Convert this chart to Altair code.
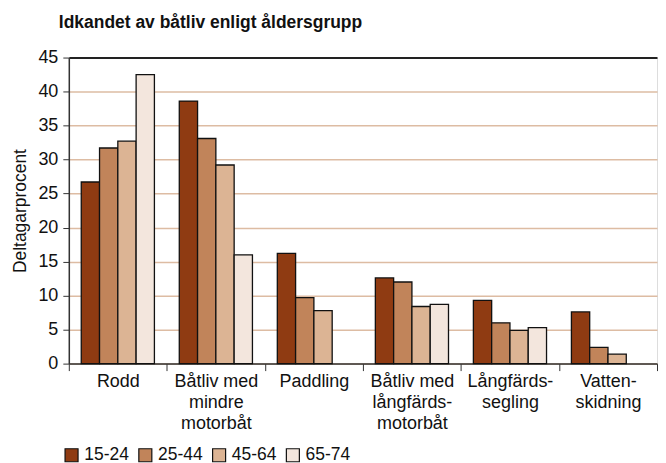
import altair as alt
import pandas as pd

categories = ["Rodd", "Båtliv med|mindre|motorbåt", "Paddling",
              "Båtliv med|långfärds-|motorbåt", "Långfärds-|segling", "Vatten-|skidning"]
groups = ["15-24", "25-44", "45-64", "65-74"]
colors = ["#8F3B12", "#C1845A", "#DCB494", "#F3E6DD"]

v_15_24 = [26.7, 38.6, 16.2, 12.6, 9.3, 7.6]
v_25_44 = [31.7, 33.1, 9.7, 12.0, 6.0, 2.4]
v_45_64 = [32.7, 29.2, 7.8, 8.4, 4.9, 1.4]
v_65_74 = [42.5, 16.0, None, 8.7, 5.3, None]

y_ticks = [0, 5, 10, 15, 20, 25, 30, 35, 40, 45]

rows = []
for g, vals in zip(groups, [v_15_24, v_25_44, v_45_64, v_65_74]):
    for c, v in zip(categories, vals):
        if v is not None:
            rows.append({"cat": c, "grp": g, "val": v})
df = pd.DataFrame(rows)

FONT = "Liberation Sans, Arial, sans-serif"

chart = alt.Chart(df).mark_bar(stroke="#111", strokeWidth=1.3).encode(
    x=alt.X("cat:N", sort=categories, title=None,
            scale=alt.Scale(paddingInner=0, paddingOuter=0),
            axis=alt.Axis(labelExpr="split(datum.label, '|')", labelAngle=0,
                          tickBand="extent", tickSize=7, tickColor="#333",
                          domainColor="#333", domainWidth=1.5, labelFontSize=18,
                          labelFont=FONT, labelColor="#111", labelPadding=2,
                          labelLineHeight=21)),
    xOffset=alt.XOffset("grp:N", sort=groups,
                        scale=alt.Scale(paddingOuter=0.68, paddingInner=0)),
    y=alt.Y("val:Q", title="Deltagarprocent",
            scale=alt.Scale(domain=[0, 45], nice=False, zero=True),
            axis=alt.Axis(values=y_ticks, grid=True, labelOverlap=False,
                          gridColor={"condition": {"test": "datum.value === 45", "value": "#222"},
                                     "value": "#DDBCA3"},
                          gridWidth={"condition": {"test": "datum.value === 45", "value": 2},
                                     "value": 1.5},
                          tickSize=6, tickColor="#333", domainColor="#333", domainWidth=1.5,
                          labelFontSize=18, labelFont=FONT, labelColor="#111",
                          labelPadding=5,
                          titleFontSize=17.5, titleFont=FONT, titleFontWeight="normal",
                          titleColor="#111", titlePadding=8)),
    color=alt.Color("grp:N", sort=groups, scale=alt.Scale(domain=groups, range=colors),
                    legend=alt.Legend(title=None, orient="none", direction="horizontal",
                                      legendX=-6, legendY=390,
                                      symbolType="square", symbolSize=170,
                                      symbolStrokeColor="#111", symbolStrokeWidth=1.2,
                                      labelFontSize=17.5, labelFont=FONT, labelColor="#111",
                                      labelOffset=4, columnPadding=6,
                                      symbolOffset=0)),
).properties(
    width=590, height=307,
    title=alt.TitleParams("Idkandet av båtliv enligt åldersgrupp", anchor="start",
                          frame="group", dx=-10, fontSize=17.5, font=FONT,
                          fontWeight="bold", color="#111", offset=17),
).configure_view(stroke=None).configure(padding={"left": 3, "top": 5, "right": 0, "bottom": 4})

chart.save("out.html", embed_options={"renderer": "svg", "actions": False})
